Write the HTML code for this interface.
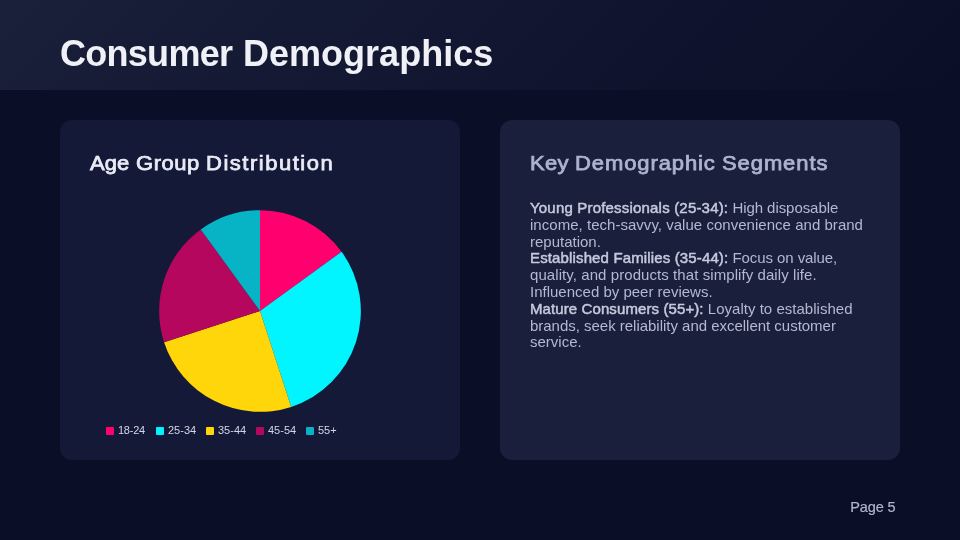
<!DOCTYPE html>
<html lang="en">
<head>
<meta charset="utf-8">
<title>Consumer Demographics</title>
<style>
*{margin:0;padding:0;box-sizing:border-box}
html,body{width:960px;height:540px;overflow:hidden;background:#0a0e27}
body{position:relative;font-family:"Liberation Sans",sans-serif;color:#eef0f8}
.header{position:absolute;left:0;top:0;width:960px;height:90px;background:linear-gradient(135deg,#1a1f3a 0%,#0a0e27 100%)}
.title{position:absolute;left:60px;top:33px;font-size:36px;font-weight:700;line-height:42px;letter-spacing:0;word-spacing:0.6px;white-space:nowrap;color:#f0f0f7}
.card{position:absolute;top:120px;width:400px;height:340px;border-radius:12px}
.c1{left:60px;background:#151938}
.c2{left:500px;background:#1a1f3b}
.h2{position:absolute;left:0;top:30px;width:400px;height:26px;font-size:20px;font-weight:400;line-height:26px;white-space:nowrap;-webkit-text-stroke:0.75px currentColor}
.h2 span{position:absolute;top:0;display:inline-block;transform-origin:0 50%;transform:scaleX(1.1)}
.c1 .h2{color:#e9ebf5}
.c2 .h2{color:#aeb3cf}
.pie{position:absolute;left:98.15px;top:88.65px;width:204px;height:204px}
.lg{position:absolute;top:307px;height:8px;width:8px;border-radius:1px}
.lt{position:absolute;top:303px;font-size:11px;line-height:14px;color:#d3d6e5;white-space:nowrap}
.txt{position:absolute;left:30px;top:80px;width:360px;font-size:15px;color:#b4b8d0}
.txt div{height:16.8px;line-height:16.8px;white-space:nowrap}
.txt b{color:#c6c9dd;font-weight:400;-webkit-text-stroke:0.5px #c6c9dd;letter-spacing:0.14px}
.page{position:absolute;left:850.3px;top:497.7px;letter-spacing:-0.12px;font-size:14.5px;line-height:18px;color:#b0b4cc;-webkit-text-stroke:0.2px #b0b4cc;white-space:nowrap}
</style>
</head>
<body>
<div class="header"><div class="title"><span style="letter-spacing:-0.72px">Consumer</span> <span style="letter-spacing:0.03px">Demographics</span></div></div>
<div class="card c1">
  <div class="h2"><span style="left:30.4px;letter-spacing:0.05px">Age</span> <span style="left:76.1px;letter-spacing:0.5px">Group</span> <span style="left:145.9px;letter-spacing:1.37px">Distribution</span></div>
  <svg class="pie" viewBox="-102 -102 204 204">
    <path d="M0 0 L0.00 -100.85 A100.85 100.85 0 0 1 81.59 -59.28 Z" fill="#ff006e"/>
    <path d="M0 0 L81.59 -59.28 A100.85 100.85 0 0 1 31.16 95.91 Z" fill="#00f5ff"/>
    <path d="M0 0 L31.16 95.91 A100.85 100.85 0 0 1 -95.91 31.16 Z" fill="#ffd60a"/>
    <path d="M0 0 L-95.91 31.16 A100.85 100.85 0 0 1 -59.28 -81.59 Z" fill="#b5075e"/>
    <path d="M0 0 L-59.28 -81.59 A100.85 100.85 0 0 1 -0.00 -100.85 Z" fill="#06b4c6"/>
  </svg>
  <span class="lg" style="left:46px;background:#ff006e"></span><span class="lt" style="left:58px;letter-spacing:-0.25px">18-24</span>
  <span class="lg" style="left:96px;background:#00f5ff"></span><span class="lt" style="left:108px">25-34</span>
  <span class="lg" style="left:146px;background:#ffd60a"></span><span class="lt" style="left:158px">35-44</span>
  <span class="lg" style="left:196px;background:#b5075e"></span><span class="lt" style="left:208px">45-54</span>
  <span class="lg" style="left:246px;background:#06b4c6"></span><span class="lt" style="left:258px">55+</span>
</div>
<div class="card c2">
  <div class="h2"><span style="left:29.8px;letter-spacing:0.27px">Key</span> <span style="left:75.3px;letter-spacing:0.82px">Demographic</span> <span style="left:222px;letter-spacing:0.83px">Segments</span></div>
  <div class="txt">
    <div><b style="letter-spacing:0.19px">Young Professionals (25-34):</b> <span style="letter-spacing:-0.06px">High disposable</span></div>
    <div style="letter-spacing:0.03px">income, tech-savvy, value convenience and brand</div>
    <div>reputation.</div>
    <div><b>Established Families (35-44):</b> <span style="letter-spacing:-0.08px">Focus on value,</span></div>
    <div style="letter-spacing:0.075px">quality, and products that simplify daily life.</div>
    <div>Influenced by peer reviews.</div>
    <div><b style="letter-spacing:0.1px">Mature Consumers (55+):</b> <span style="letter-spacing:0.02px">Loyalty to established</span></div>
    <div style="letter-spacing:-0.02px">brands, seek reliability and excellent customer</div>
    <div>service.</div>
  </div>
</div>
<div class="page">Page 5</div>
</body>
</html>
